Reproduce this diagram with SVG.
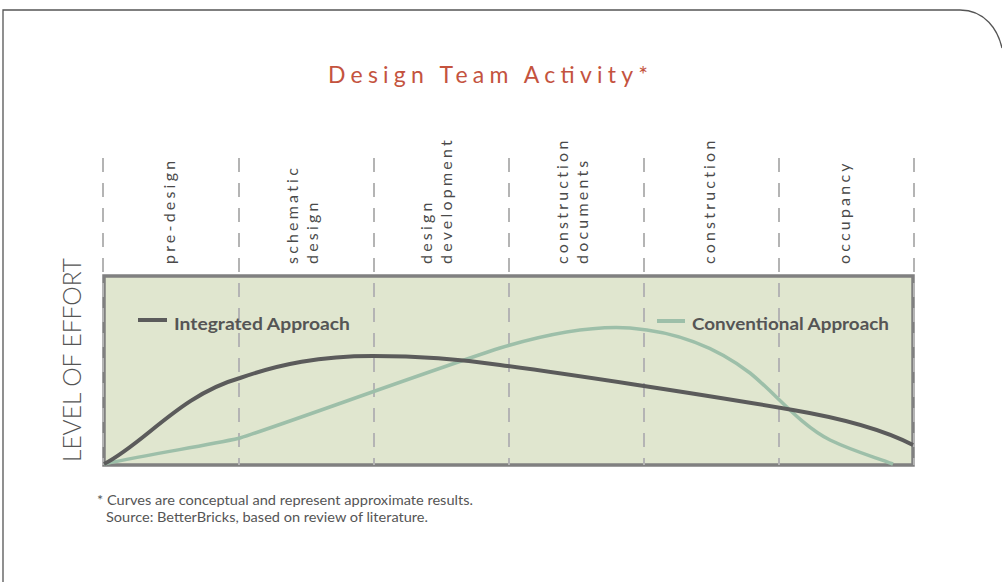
<svg xmlns="http://www.w3.org/2000/svg" width="1002" height="582" viewBox="0 0 1002 582">
<style>
.phase{font-family:Lato,"Noto Sans",sans-serif;font-size:16px;letter-spacing:3.2px;fill:#4a4a4a}
.grid{stroke:#b4b4b4;stroke-width:2;stroke-dasharray:14,11;fill:none}
.leg{font-family:Lato,"Noto Sans",sans-serif;font-size:17px;font-weight:bold;fill:#555}
.note{font-family:Lato,"Noto Sans",sans-serif;font-size:13px;fill:#555}
</style>
<rect width="1002" height="582" fill="#fff"/>
<path d="M3,582 V10 H960 C985,10 998,30 1002,48" fill="none" stroke="#555" stroke-width="1.3"/>
<text x="328" y="83" textLength="320" lengthAdjust="spacing" font-family="Lato,'Noto Sans',sans-serif" font-size="23" fill="#c4533e">Design Team Activity*</text>
<g id="chart">
<rect x="104" y="276" width="809" height="189" fill="#e0e6cf" stroke="#808080" stroke-width="3.5"/>
</g>
<g id="grid">
<line class="grid" x1="103" y1="158" x2="103" y2="465"/>
<line class="grid" x1="239" y1="158" x2="239" y2="465"/>
<line class="grid" x1="374" y1="158" x2="374" y2="465"/>
<line class="grid" x1="509" y1="158" x2="509" y2="465"/>
<line class="grid" x1="644" y1="158" x2="644" y2="465"/>
<line class="grid" x1="779" y1="158" x2="779" y2="465"/>
<line class="grid" x1="914" y1="158" x2="914" y2="465"/>
</g>
<g id="phases">
<text class="phase" transform="translate(175,264) rotate(-90)">pre-design</text>
<text class="phase" transform="translate(298,264) rotate(-90)">schematic</text>
<text class="phase" transform="translate(318,264) rotate(-90)">design</text>
<text class="phase" transform="translate(432,264) rotate(-90)">design</text>
<text class="phase" transform="translate(452,264) rotate(-90)">development</text>
<text class="phase" transform="translate(568,264) rotate(-90)">construction</text>
<text class="phase" transform="translate(588,264) rotate(-90)">documents</text>
<text class="phase" transform="translate(715,264) rotate(-90)">construction</text>
<text class="phase" transform="translate(850,264) rotate(-90)">occupancy</text>
</g>
<text transform="translate(81,462) rotate(-90)" font-family="Lato,'Noto Sans',sans-serif" font-size="24.5" font-weight="300" fill="#555">LEVEL OF EFFORT</text>
<g id="connectors">
<path id="conventional" d="M104,464 C160,452 200,447 240,438 C290,422 420,374 500,348 C560,330 600,326 630,328 C680,332 720,350 750,373 C775,393 800,425 830,440 C855,452 875,457 893,464" fill="none" stroke="#9dbfa9" stroke-width="3.5"/>
<path id="integrated" d="M104,464 C145,443 180,395 240,378 C280,364 320,356 373,356 C420,356 460,359 500,365 C560,373 700,394 793,410 C840,418 880,428 913,445" fill="none" stroke="#5b5b5b" stroke-width="4"/>
</g>
<g id="legend">
<line x1="138" y1="320" x2="167" y2="320" stroke="#5b5b5b" stroke-width="4"/>
<text class="leg" x="174" y="330" textLength="176" lengthAdjust="spacingAndGlyphs">Integrated Approach</text>
<line x1="657" y1="321" x2="685" y2="321" stroke="#9dbfa9" stroke-width="4"/>
<text class="leg" x="692" y="330" textLength="197" lengthAdjust="spacingAndGlyphs">Conventional Approach</text>
</g>
<text class="note" x="97" y="505" textLength="376" lengthAdjust="spacingAndGlyphs">* Curves are conceptual and represent approximate results.</text>
<text class="note" x="106" y="522" textLength="322" lengthAdjust="spacingAndGlyphs">Source: BetterBricks, based on review of literature.</text>
</svg>
